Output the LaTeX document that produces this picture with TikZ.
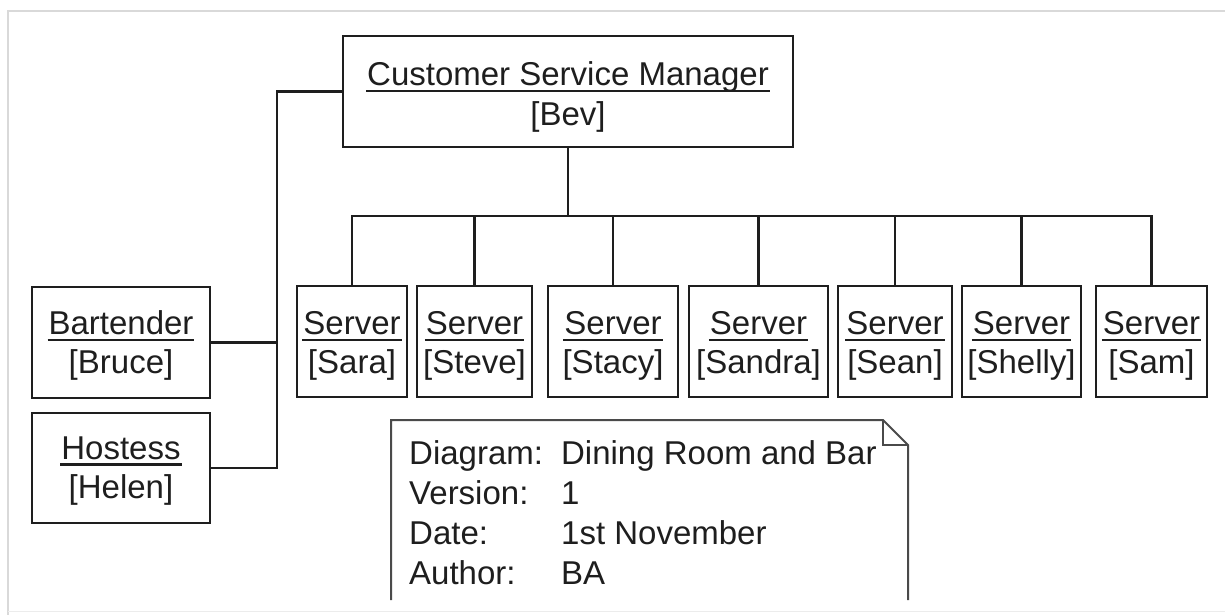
\documentclass[tikz,border=0pt]{standalone}
\usepackage{fontspec}
\setmainfont{Liberation Sans}
\usetikzlibrary{calc}
\definecolor{ink}{HTML}{1E1E1E}
\definecolor{noteink}{HTML}{4A4A4A}
\newcommand\myul[1]{\setbox0\hbox{#1}\rlap{\kern-1pt\rule[-6pt]{\dimexpr\wd0+2pt\relax}{2.2pt}}\box0}
\begin{document}
\begin{tikzpicture}[x=1pt,y=-1pt,
  box/.style={draw=ink, line width=2.6pt, inner sep=0pt, minimum height=111pt},
  txt/.style={inner sep=0pt, align=center, text=ink, font=\fontsize{33}{39}\selectfont, anchor=north},
  link/.style={draw=ink, line width=2.2pt},
  notetxt/.style={inner sep=0pt, align=left, text=ink, font=\fontsize{33}{40}\selectfont, anchor=north west}]
\useasboundingbox (0,0) rectangle (1225,615);
\draw[gray!30, line width=1.5pt] (8,615) -- (8,11) -- (1225,11);
\draw[gray!15, line width=1pt] (8,611) -- (1225,611);
% boxes
\node[box, minimum width=450pt] (mgr) at (568,91.5) {};
\node[box, minimum width=178pt] (bart) at (121,342.5) {};
\node[box, minimum width=178pt, minimum height=110pt] (host) at (121,468) {};
\node[box, minimum width=110pt] (sara) at (352,341.5) {};
\node[box, minimum width=115pt] (steve) at (474.5,341.5) {};
\node[box, minimum width=130pt] (stacy) at (613,341.5) {};
\node[box, minimum width=139pt] (sandra) at (758.5,341.5) {};
\node[box, minimum width=114pt] (sean) at (895,341.5) {};
\node[box, minimum width=119pt] (shelly) at (1021.5,341.5) {};
\node[box, minimum width=111pt] (sam) at (1151.5,341.5) {};
% texts
\node[txt, font=\fontsize{33}{40}\selectfont] (tmgr) at ($(mgr.north)+(0,27)$) {\myul{Customer Service Manager}\\{[Bev]}};
\node[txt] (tbart) at ($(bart.north)+(0,25)$) {\myul{Bartender}\\{[Bruce]}};
\node[txt] (thost) at ($(host.north)+(0,25)$) {\myul{Hostess}\\{[Helen]}};
\node[txt] (tsara) at ($(sara.north)+(0,27)$) {\myul{Server}\\{[Sara]}};
\node[txt] (tsteve) at ($(steve.north)+(0,27)$) {\myul{Server}\\{[Steve]}};
\node[txt] (tstacy) at ($(stacy.north)+(0,27)$) {\myul{Server}\\{[Stacy]}};
\node[txt] (tsandra) at ($(sandra.north)+(0,27)$) {\myul{Server}\\{[Sandra]}};
\node[txt] (tsean) at ($(sean.north)+(0,27)$) {\myul{Server}\\{[Sean]}};
\node[txt] (tshelly) at ($(shelly.north)+(0,27)$) {\myul{Server}\\{[Shelly]}};
\node[txt] (tsam) at ($(sam.north)+(0,27)$) {\myul{Server}\\{[Sam]}};
% connectors
\coordinate (bus) at (568,216);
\coordinate (spine) at (277,92);
\draw[link] (mgr.south) -- (bus);
\draw[link] (sara.north) |- (sam.north |- bus) -- (sam.north);
\foreach \n in {steve,stacy,sandra,sean,shelly}
  \draw[link] (\n.north) -- (\n.north |- bus);
\draw[link] (mgr.west) -| (spine |- host.east) -- (host.east);
\draw[link] (bart.east) -- (spine |- bart.east);
% note
\draw[noteink, line width=2pt, line join=miter] (391,600) -- (391,420) -- (883,420) -- (908,445) -- (908,600);
\draw[noteink, line width=1.6pt] (883,420) -- (883,445) -- (908,445);
\node[notetxt] (note) at (409,440) {\makebox[152pt][l]{Diagram:}Dining Room and Bar\\
\makebox[152pt][l]{Version:}1\\
\makebox[152pt][l]{Date:}1st November\\
\makebox[152pt][l]{Author:}BA};
\end{tikzpicture}
\end{document}
